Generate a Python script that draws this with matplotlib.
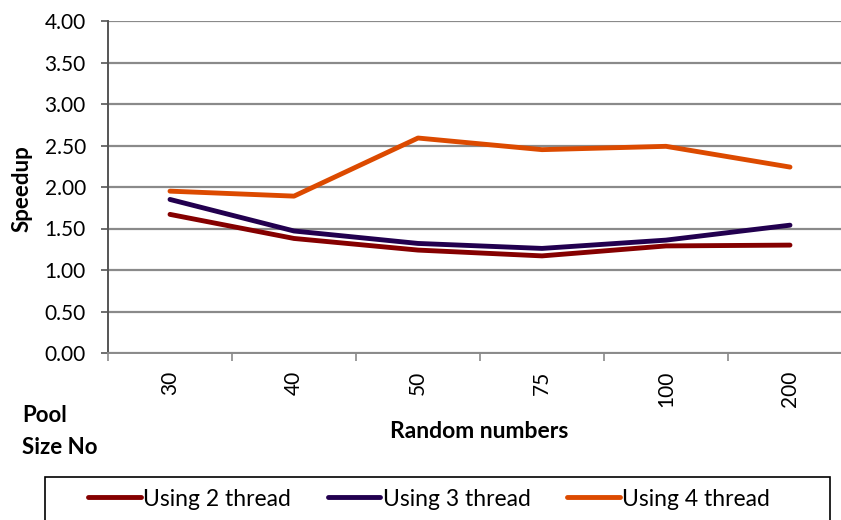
import numpy as np
import matplotlib.pyplot as plt
from matplotlib.patches import Rectangle

# data
pool_sizes = ['30', '40', '50', '75', '100', '200']
speedup_2 = [1.67, 1.38, 1.24, 1.17, 1.29, 1.30]
speedup_3 = [1.85, 1.47, 1.32, 1.26, 1.36, 1.54]
speedup_4 = [1.95, 1.89, 2.59, 2.45, 2.49, 2.24]

plt.rcParams['font.family'] = ['Lato', 'DejaVu Sans']

W, H = 841, 520
fig = plt.figure(figsize=(W / 100, H / 100), dpi=100)
ax = fig.add_axes([108 / W, (H - 353) / H, (852 - 108) / W, 332 / H])

x = np.arange(len(pool_sizes))
ax.plot(x, speedup_2, color='#850000', lw=3.5, label='Using 2 thread', solid_capstyle='round')
ax.plot(x, speedup_3, color='#22004f', lw=3.5, label='Using 3 thread', solid_capstyle='round')
ax.plot(x, speedup_4, color='#dc4a00', lw=3.5, label='Using 4 thread', solid_capstyle='round')

ax.set_xlim(-0.5, len(pool_sizes) - 0.5)
ax.set_ylim(0, 4)
ax.set_yticks(np.arange(0, 4.01, 0.5))
ax.set_yticklabels(['%.2f' % v for v in np.arange(0, 4.01, 0.5)], fontsize=15)
ax.yaxis.grid(True, color='#8a8a8a', lw=1.6)
ax.set_axisbelow(True)

# category labels centred, tick marks on the boundaries
ax.set_xticks(x)
ax.set_xticklabels(pool_sizes, rotation=90, fontsize=15)
ax.tick_params(axis='x', length=0, pad=13)
ax.set_xticks(np.arange(-0.5, len(pool_sizes), 1), minor=True)
ax.tick_params(axis='x', which='minor', length=6, color='#8a8a8a', width=1.2)
ax.tick_params(axis='y', length=5, color='#555555', width=1.2, pad=11)

for s in ['top', 'right']:
    ax.spines[s].set_visible(False)
ax.spines['left'].set_color('#555555')
ax.spines['left'].set_linewidth(1.4)
ax.spines['bottom'].set_color('#8a8a8a')
ax.spines['bottom'].set_linewidth(1.4)

fig.text(22 / W, 1 - 189 / H, 'Speedup', fontsize=16, fontweight='bold',
         rotation=90, ha='center', va='center')
fig.text(479 / W, 1 - 432 / H, 'Random numbers', fontsize=16.5, fontweight='bold',
         ha='center', va='center')
fig.text(22 / W, 1 - 415 / H, 'Pool', fontsize=16, fontweight='bold', va='center')
fig.text(22 / W, 1 - 447 / H, 'Size No', fontsize=16, fontweight='bold', va='center')

# legend box running off the bottom edge
fig.patches.append(Rectangle((45 / W, -0.02), (830 - 45) / W, (H - 477) / H + 0.02,
                             transform=fig.transFigure, fill=False, edgecolor='black', lw=1.2))
fig.legend(loc='center', bbox_to_anchor=(429 / W, 1 - 499 / H), ncol=3, frameon=False,
           fontsize=16.5, handlelength=2.3, handletextpad=0.1, columnspacing=1.6)

fig.savefig('out.png', dpi=100)
